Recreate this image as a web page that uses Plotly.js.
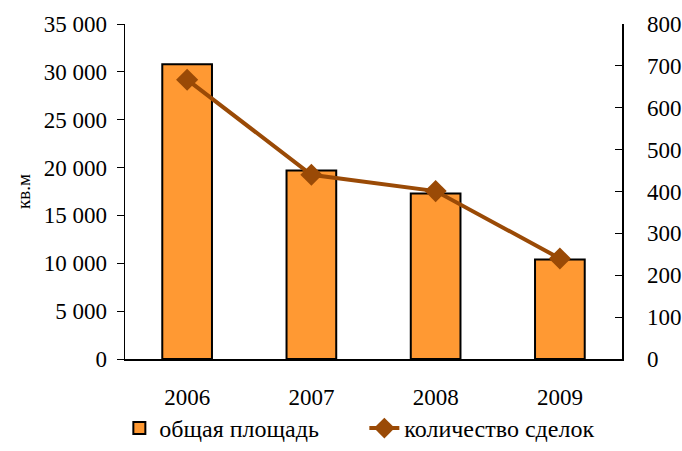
<!DOCTYPE html>
<html>
<head>
<meta charset="utf-8">
<script src="https://cdn.plot.ly/plotly-3.0.1.min.js"></script>
<style>html,body{margin:0;padding:0;background:#fff;}#chart{width:682px;height:451px;}</style>
</head>
<body>
<div id="chart"></div>
<script>
const years = ['2006', '2007', '2008', '2009'];
const area = [30800, 19700, 17300, 10400];
const deals = [667, 440, 401, 240];
const areaTicks = [0, 5000, 10000, 15000, 20000, 25000, 30000, 35000];
const dealTicks = [0, 100, 200, 300, 400, 500, 600, 700, 800];

const font = {family: '"Liberation Serif", "Times New Roman", serif', size: 23, color: '#000'};

const data = [
  {
    type: 'bar', x: years, y: area, name: 'общая площадь',
    marker: {color: '#FF9933', line: {color: '#000', width: 2}},
    width: 0.4, yaxis: 'y'
  },
  {
    type: 'scatter', mode: 'lines+markers', x: years, y: deals, name: 'количество сделок',
    line: {color: '#9A4A06', width: 4},
    marker: {symbol: 'diamond', size: 17, color: '#9A4A06'},
    yaxis: 'y2'
  }
];

const layout = {
  width: 682, height: 451,
  margin: {l: 125, r: 60, t: 24, b: 92},
  paper_bgcolor: '#fff', plot_bgcolor: '#fff',
  font: font,
  separators: ', ',
  showlegend: true,
  legend: {orientation: 'h', xref: 'container', yref: 'container', x: 0.175, xanchor: 'left', y: -0.018, yanchor: 'bottom',
           font: {family: font.family, size: 24, color: '#000'},
           bgcolor: 'rgba(0,0,0,0)', entrywidth: 200, entrywidthmode: 'pixels', tracegroupgap: 0},
  xaxis: {
    type: 'category', showline: true, linecolor: '#000', linewidth: 1.5,
    ticks: '', showgrid: false, tickfont: font, ticklabelstandoff: 17
  },
  yaxis: {
    range: [0, 35000], tickvals: areaTicks, tickformat: ',d',
    showline: true, linecolor: '#000', linewidth: 1.5, ticks: 'outside', ticklen: 7, tickcolor: '#000',
    showgrid: false, zeroline: false, tickfont: font, ticklabelstandoff: 5,
    title: {text: 'кв.м', font: {family: font.family, size: 19, color: '#000'}, standoff: 8}
  },
  yaxis2: {
    range: [0, 800], tickvals: dealTicks, overlaying: 'y', side: 'right',
    showline: true, linecolor: '#000', linewidth: 1.5, ticks: 'inside', ticklen: 7, tickcolor: '#000',
    showgrid: false, zeroline: false, tickfont: font, ticklabelstandoff: 19
  }
};

Plotly.newPlot('chart', data, layout, {displayModeBar: false, staticPlot: true});
</script>
</body>
</html>
